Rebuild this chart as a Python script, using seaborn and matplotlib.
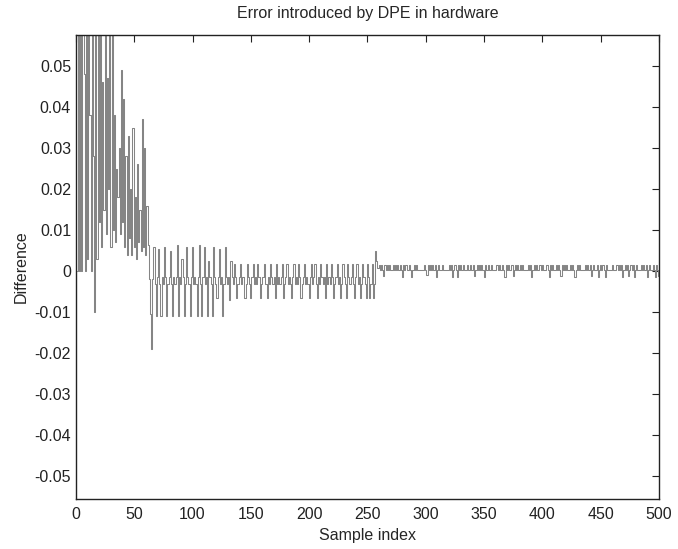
import numpy as np
import pandas as pd
import seaborn as sns
import matplotlib.pyplot as plt

# difference values, in units of 1e-4
start_part = [0, 900, 0, 800, 0, 950, 480, 0, 700, 30,
              850, 380, 0, 900, 280, -100, 620, 30, 750, 120,
              880, 60, 460, 150, 700, 90, 470, 200, 640, 60,
              610, 100, 380, 70, 250, 180, 300, 90, 490, 120,
              420, 60, 280, 40, 330, 80, 200, 40, 350, 60,
              180, 30, 260, 70, 150, 50, 370, 60, 300, 40,
              160, 65, -20, -105, -190]
mid_part = [-20, 60, -30, -110, -15, 55, -30, -110, -15, -30,
            60, -15, -110, -30, -15, 50, -30, -110, -15, -30,
            -15, 65, -110, -15, -30, 30, -15, -110, -30, 60,
            -15, -30, -110, -15, 60, -30, -15, -30, -110, -15,
            65, -30, -110, -15, 60, -30, -15, -110, 25, -15,
            -30, -110, 60, -15, -30, -65, -15, 55, -30, -15,
            -110, -30, 60, -15, -30, -15, -70, 25, -15, -30,
            18, -15, -65, -30, -15, 18, -30, -15, -15, -65,
            -30, 18, -15, -30, -65, -15, 18, -30, -15, -30,
            18, -15, -65, -30, -15, -15, 18, -30, -65, -15,
            -30, 18, -15, -30, -15, -65, 18, -30, -15, -30,
            -15, 18, -65, -30, -15, 18, -30, -15, -30, -65,
            -15, 18, -30, -15, -30, 18, -15, -65, -30, -15,
            18, -30, -15, -30, -65, -15, 18, -30, -15, 18,
            -30, -65, -15, -30, 18, -15, -30, -15, -65, 18,
            -30, -15, -30, 18, -15, -65, -30, -15, 18, -30,
            -15, -65, -30, 18, -15, -30, -65, 18, -15, -30,
            -15, 18, -30, -65, -15, 18, -30, -15, -65, -30,
            18, -15, -30, -65, 18, -15, -65, -30, 18, -65,
            -30]
tail_part = [50, 25, 8, 15, 3, 15, 3, -12, 15, 3,
             15, 3, 15, 3, 3, 15, 3, 15, 3, 15,
             3, 15, 3, -15, 15, 3, 15, 3, 3, 15,
             3, -15, 3, 15, 3, 15, 3, 3, 3, 3,
             3, 3, 15, 3, -10, 15, 3, 15, 3, 15,
             3, 15, -15, 3, 15, 3, 3, 15, 3, 3,
             3, 3, 3, 15, 3, 15, -15, 3, 15, 3,
             -15, 15, 3, 15, 3, 15, 3, 3, 3, 15,
             3, 15, 3, 3, 15, -12, 3, 15, 3, 15,
             3, 15, 3, -15, 15, 3, 3, 15, 3, 15,
             3, 3, 3, 3, 15, 3, 15, 3, 3, 15,
             3, -15, 15, 3, 15, 3, 3, 15, -12, 3,
             15, 3, 15, 3, 15, 3, 15, 3, 3, 3,
             3, 15, 3, 15, -15, 3, 15, 3, 15, 3,
             3, 15, 3, 15, 3, 3, 3, 15, 3, -15,
             15, 3, 15, 3, 3, 15, 3, 15, 3, -12,
             15, 3, 15, 3, 15, 3, 3, 15, 3, 15,
             3, -15, 3, 15, 3, 15, 3, 3, 3, 3,
             15, 3, 15, 3, 15, -12, 3, 15, 3, 3,
             15, -15, 3, 15, 3, 15, 3, -15, 15, 3,
             3, 3, 3, 15, 3, 3, 3, 15, 3, 15,
             3, 15, -15, 3, 15, 3, 15, -12, 3, 15,
             3, 15, -15, 3, 15, 3, 3, 3, 15, 3,
             15, 3, 15, -15, 3, 15, 3, 3, 15, 3,
             -15, 15, 3, -12]

x_ticks = [0, 50, 100, 150, 200, 250, 300, 350, 400, 450, 500]
y_ticks = [0.05, 0.04, 0.03, 0.02, 0.01, 0, -0.01, -0.02, -0.03, -0.04, -0.05]
y_tick_labels = ['0.05', '0.04', '0.03', '0.02', '0.01', '0',
                 '-0.01', '-0.02', '-0.03', '-0.04', '-0.05']

diff = np.array(start_part + mid_part + tail_part) * 1e-4
df = pd.DataFrame({'sample': np.arange(1, len(diff) + 1), 'diff': diff})

sns.set_style('white')
plt.rcParams['font.family'] = ['Liberation Sans Narrow', 'Liberation Sans', 'DejaVu Sans']
plt.rcParams['axes.unicode_minus'] = False

fig, ax = plt.subplots(figsize=(6.78, 5.49), dpi=100)
fig.subplots_adjust(left=0.112, right=0.972, top=0.936, bottom=0.091)
sns.lineplot(data=df, x='sample', y='diff', color='#858585', linewidth=0.75,
             drawstyle='steps-mid', ax=ax)

ax.set_xlim(0, 500)
ax.set_ylim(-0.0555, 0.0575)
ax.set_xticks(x_ticks)
ax.set_xticklabels([str(t) for t in x_ticks])
ax.set_yticks(y_ticks)
ax.set_yticklabels(y_tick_labels)
ax.tick_params(direction='in', top=True, right=True, length=5, width=0.8,
               labelsize=11.5, colors='#222222')
ax.tick_params(axis='x', pad=6)
for s in ax.spines.values():
    s.set_color('#222222')
    s.set_linewidth(1.0)

ax.set_title('Error introduced by DPE in hardware', fontsize=11.5, pad=12)
ax.set_xlabel('Sample index', fontsize=11.5, labelpad=4)
ax.set_ylabel('Difference', fontsize=11.5, labelpad=4)

fig.savefig('out.png', dpi=100)
